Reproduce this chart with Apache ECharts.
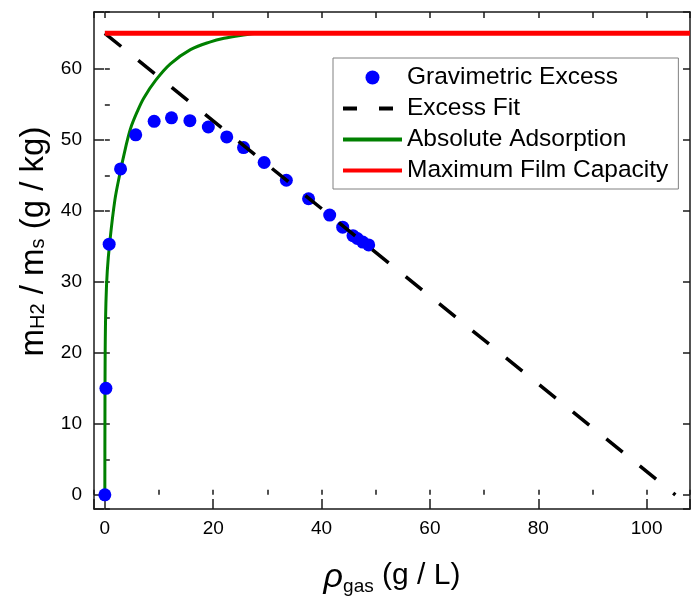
<!DOCTYPE html>
<html>
<head>
<meta charset="utf-8">
<script src="https://cdn.jsdelivr.net/npm/echarts@6/dist/echarts.min.js"></script>
<style>
  html, body { margin: 0; padding: 0; background: #fff; }
  #chart { width: 691px; height: 596px; }
</style>
</head>
<body>
<div id="chart"></div>
<script>
// ---- data ----
const excessName = 'Gravimetric Excess';
const fitName = 'Excess Fit';
const absName = 'Absolute Adsorption';
const capName = 'Maximum Film Capacity';

// gravimetric excess points [rho_gas (g/L), m_H2/m_s (g/kg)]
const excessPoints = [
  [0, 0], [0.2, 15], [0.8, 35.3], [2.9, 45.9], [5.7, 50.7], [9.1, 52.6],
  [12.3, 53.1], [15.7, 52.7], [19.1, 51.8], [22.5, 50.4], [25.6, 48.9],
  [29.4, 46.8], [33.5, 44.3], [37.6, 41.7], [41.5, 39.4], [43.9, 37.7],
  [45.8, 36.5], [46.6, 36.1], [47.6, 35.6], [48.7, 35.2]
];
// linear excess fit end points
const fitPoints = [[0, 65], [105.3, 0]];
// absolute adsorption curve
const absPoints = [
  [0, 0], [0.02, 10], [0.06, 20], [0.2, 27], [0.45, 31.5], [0.9, 35.5],
  [1.85, 41.5], [2.8, 45.3], [3.8, 48.8], [4.75, 51.6], [6, 54.0],
  [7.2, 55.9], [9.4, 58.4], [12.1, 60.7], [15.8, 62.7], [19.5, 63.8],
  [22, 64.3], [25, 64.7], [28, 65]
];
// maximum film capacity
const capPoints = [[0, 65], [108, 65]];

// axis ranges
const xRange = [-2, 108];
const yRange = [-2, 68];

const FONT = 'Liberation Sans, Arial, sans-serif';
const AX = '#1a1a1a';

function hiddenAxisBase(extra) {
  return Object.assign({
    type: 'value',
    axisLabel: { show: false },
    splitLine: { show: false },
    axisLine: { show: false },
    silent: true
  }, extra);
}

const chart = echarts.init(document.getElementById('chart'));
chart.setOption({
  animation: false,
  backgroundColor: '#ffffff',
  grid: { left: 94, right: 1, top: 12, bottom: 87, containLabel: false, outerBoundsMode: 'none' },
  xAxis: [
    {
      type: 'value', min: xRange[0], max: xRange[1], splitNumber: 5,
      position: 'bottom',
      axisLine: { show: true, onZero: false, lineStyle: { color: AX, width: 1.5 } },
      axisTick: { show: true, inside: true, length: 10, lineStyle: { color: AX, width: 1.5 } },
      splitLine: { show: false },
      axisLabel: {
        fontSize: 19, fontFamily: FONT, color: '#000', margin: 10,
        formatter: v => (Math.abs(v % 20) < 1e-9 ? String(v) : '')
      },
      name: '{rho|ρ}{sub|gas}{m| (g / L)}',
      nameLocation: 'middle', nameGap: 52,
      nameTextStyle: {
        fontFamily: FONT, color: '#000',
        rich: {
          rho: { fontSize: 34, fontStyle: 'italic', fontFamily: FONT, lineHeight: 35, verticalAlign: 'top', color: '#000' },
          m: { fontSize: 30, fontFamily: FONT, lineHeight: 35, verticalAlign: 'top', color: '#000' },
          sub: { fontSize: 19, fontFamily: FONT, lineHeight: 20, verticalAlign: 'bottom', color: '#000' }
        }
      }
    },
    hiddenAxisBase({
      min: xRange[0], max: xRange[1], splitNumber: 11, position: 'bottom',
      axisTick: { show: true, inside: true, length: 5, lineStyle: { color: AX, width: 1.5 } }
    }),
    hiddenAxisBase({
      min: xRange[0], max: xRange[1], splitNumber: 11, position: 'top',
      axisLine: { show: true, onZero: false, lineStyle: { color: AX, width: 1.5 } },
      axisTick: { show: true, inside: true, length: 6, lineStyle: { color: AX, width: 1.5 } }
    })
  ],
  yAxis: [
    {
      type: 'value', min: yRange[0], max: yRange[1], splitNumber: 7,
      position: 'left',
      axisLine: { show: true, onZero: false, lineStyle: { color: AX, width: 1.5 } },
      axisTick: { show: true, inside: true, length: 10, lineStyle: { color: AX, width: 1.5 } },
      splitLine: { show: false },
      axisLabel: {
        fontSize: 19, fontFamily: FONT, color: '#000', margin: 12,
        formatter: v => (Math.abs(v % 10) < 1e-9 ? String(v) : '')
      },
      name: '{pad|}{m|m}{sub|H2}{m| / m}{sub|s}{m| (g / kg)}',
      nameLocation: 'middle', nameGap: 42,
      nameTextStyle: {
        fontFamily: FONT, color: '#000',
        rich: {
          pad: { width: 38, fontSize: 10, lineHeight: 32, verticalAlign: 'top' },
          m: { fontSize: 33, fontFamily: FONT, lineHeight: 32, verticalAlign: 'top', color: '#000' },
          sub: { fontSize: 20, fontFamily: FONT, lineHeight: 18, verticalAlign: 'bottom', color: '#000' }
        }
      }
    },
    hiddenAxisBase({
      min: yRange[0], max: yRange[1], splitNumber: 14, position: 'left',
      axisTick: { show: true, inside: true, length: 5, lineStyle: { color: AX, width: 1.5 } }
    }),
    hiddenAxisBase({
      min: yRange[0], max: yRange[1], splitNumber: 7, position: 'right',
      axisLine: { show: true, onZero: false, lineStyle: { color: AX, width: 1.5 } },
      axisTick: { show: true, inside: true, length: 7, lineStyle: { color: AX, width: 1.5 } }
    })
  ],
  legend: {
    orient: 'vertical', left: 333, top: 58,
    padding: [7, 10, 6, 8],
    itemWidth: 59, itemHeight: 14, itemGap: 6,
    borderColor: '#808080', borderWidth: 1, borderRadius: 0,
    backgroundColor: '#ffffff',
    textStyle: { fontSize: 24.5, fontFamily: FONT, color: '#000', lineHeight: 24 },
    data: [
      { name: excessName },
      { name: fitName, lineStyle: { type: [14, 22], width: 4 }, itemStyle: { opacity: 0 } },
      { name: absName, lineStyle: { width: 4 }, itemStyle: { opacity: 0 } },
      { name: capName, lineStyle: { width: 4 }, itemStyle: { opacity: 0 } }
    ]
  },
  series: [
    {
      name: absName, type: 'line', data: absPoints, xAxisIndex: 0, yAxisIndex: 0,
      symbol: 'none', showSymbol: false, smooth: 0.35, z: 2,
      lineStyle: { color: '#008000', width: 3 }, itemStyle: { color: '#008000' }
    },
    {
      name: excessName, type: 'scatter', data: excessPoints, xAxisIndex: 0, yAxisIndex: 0,
      symbol: 'circle', symbolSize: 13, z: 3,
      itemStyle: { color: '#0000ff', opacity: 1 }
    },
    {
      name: fitName, type: 'line', data: fitPoints, xAxisIndex: 0, yAxisIndex: 0,
      symbol: 'none', showSymbol: false, z: 4,
      lineStyle: { color: '#000000', width: 3.5, type: [21, 22] }, itemStyle: { color: '#000' }
    },
    {
      name: capName, type: 'line', data: capPoints, xAxisIndex: 0, yAxisIndex: 0,
      symbol: 'none', showSymbol: false, z: 5,
      lineStyle: { color: '#ff0000', width: 5 }, itemStyle: { color: '#ff0000' }
    }
  ]
});
</script>
</body>
</html>
